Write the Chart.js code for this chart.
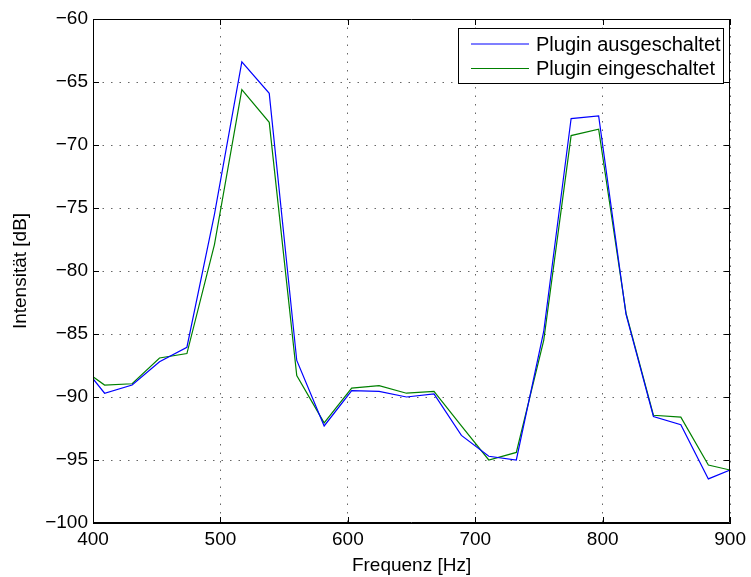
<!DOCTYPE html>
<html>
<head>
<meta charset="utf-8">
<script src="https://cdn.jsdelivr.net/npm/chart.js@4.4.1/dist/chart.umd.min.js"></script>
<style>
  html, body { margin: 0; padding: 0; background: #fff; }
  #wrap { width: 751px; height: 577px; }
</style>
</head>
<body>
<div id="wrap"><canvas id="spec" width="751" height="577"></canvas></div>
<script>
// === Data ===
const freqs = [387.6, 409.1, 430.7, 452.2, 473.7, 495.3, 516.8, 538.3, 559.9, 581.4, 603.0, 624.5, 646.0,
               667.6, 689.1, 710.6, 732.2, 753.7, 775.2, 796.8, 818.3, 839.8, 861.3, 882.9, 904.4];
const pluginOff = [-87.0, -89.7, -89.05, -87.2, -86.05, -75.5, -63.4, -65.9, -87.1, -92.3, -89.5, -89.55, -90.0,
                   -89.75, -93.05, -94.7, -95.0, -84.8, -67.9, -67.7, -83.45, -91.55, -92.2, -96.5, -95.6];
const pluginOn = [-87.5, -89.05, -88.95, -86.9, -86.55, -77.9, -65.6, -68.2, -88.3, -92.05, -89.3, -89.1, -89.7,
                  -89.55, -92.3, -95.0, -94.4, -85.5, -69.25, -68.75, -83.35, -91.45, -91.6, -95.4, -95.9];
const seriesLabels = ["Plugin ausgeschaltet", "Plugin eingeschaltet"];
const xTicks = [400, 500, 600, 700, 800, 900];
const yTicks = [-100, -95, -90, -85, -80, -75, -70, -65, -60];

const FONT = "'Liberation Sans', Arial, sans-serif";
const toPts = ys => freqs.map((f, i) => ({ x: f, y: ys[i] }));
const minus = v => String(v).replace("-", "\u2212");

// inward ticks, top/right border and boxed legend (MATLAB look)
const matlabFrame = {
  id: "matlabFrame",
  afterDraw(chart) {
    const { ctx, chartArea: a, scales } = chart;
    ctx.save();
    ctx.strokeStyle = "#000";
    ctx.lineWidth = 1;
    ctx.beginPath();
    ctx.rect(Math.round(a.left) + 0.5, Math.round(a.top) + 0.5,
             Math.round(a.right - a.left) - 1, Math.round(a.bottom - a.top) - 1);
    ctx.stroke();
    const len = 6;
    ctx.beginPath();
    xTicks.forEach(t => {
      const x = Math.round(scales.x.getPixelForValue(t)) + 0.5;
      ctx.moveTo(x, a.bottom); ctx.lineTo(x, a.bottom - len);
      ctx.moveTo(x, a.top); ctx.lineTo(x, a.top + len);
    });
    yTicks.forEach(t => {
      const y = Math.round(scales.y.getPixelForValue(t)) + 0.5;
      ctx.moveTo(a.left, y); ctx.lineTo(a.left + len, y);
      ctx.moveTo(a.right, y); ctx.lineTo(a.right - len, y);
    });
    ctx.stroke();

    // legend box
    const bx = 458.5, by = 28.5, bw = 265, bh = 55;
    ctx.fillStyle = "#fff";
    ctx.fillRect(bx, by, bw, bh);
    ctx.strokeRect(bx, by, bw, bh);
    ctx.font = "20px " + FONT;
    ctx.textBaseline = "middle";
    chart.data.datasets.forEach((ds, i) => {
      const y = 44 + i * 24.5;
      ctx.strokeStyle = ds.borderColor;
      ctx.lineWidth = 1.2;
      ctx.beginPath();
      ctx.moveTo(471, y); ctx.lineTo(529, y);
      ctx.stroke();
      ctx.fillStyle = "#000";
      ctx.fillText(ds.label, 536, y + 1);
    });
    ctx.restore();
  }
};

new Chart(document.getElementById("spec"), {
  type: "line",
  data: {
    datasets: [
      { label: seriesLabels[0], data: toPts(pluginOff), borderColor: "#0000ff", borderWidth: 1.2, pointRadius: 0, tension: 0 },
      { label: seriesLabels[1], data: toPts(pluginOn), borderColor: "#008000", borderWidth: 1.2, pointRadius: 0, tension: 0 }
    ]
  },
  options: {
    responsive: false,
    animation: false,
    layout: { padding: { top: 19, right: 18, left: 0, bottom: 0 } },
    plugins: { legend: { display: false }, tooltip: { enabled: false } },
    scales: {
      x: {
        type: "linear",
        min: 400, max: 900,
        afterBuildTicks: s => { s.ticks = xTicks.map(v => ({ value: v })); },
        afterFit: s => { s.height = 54; },
        ticks: { color: "#000", font: { family: FONT, size: 19 }, padding: 5, maxRotation: 0, callback: v => minus(v) },
        grid: { color: "#666", lineWidth: 1, drawTicks: false },
        border: { display: true, color: "#000", dash: [1.5, 7] },
        title: { display: true, text: "Frequenz [Hz]", color: "#000", font: { family: FONT, size: 19 }, padding: { top: 0, bottom: 0 } }
      },
      y: {
        min: -100, max: -60,
        afterBuildTicks: s => { s.ticks = yTicks.map(v => ({ value: v })); },
        afterFit: s => { s.width = 93; },
        ticks: { color: "#000", font: { family: FONT, size: 19 }, padding: 5, callback: v => minus(v) },
        grid: { color: "#666", lineWidth: 1, drawTicks: false },
        border: { display: true, color: "#000", dash: [1.5, 7] },
        title: { display: true, text: "Intensität [dB]", color: "#000", font: { family: FONT, size: 19 }, padding: { top: 9, bottom: 0 } }
      }
    }
  },
  plugins: [matlabFrame]
});
</script>
</body>
</html>
